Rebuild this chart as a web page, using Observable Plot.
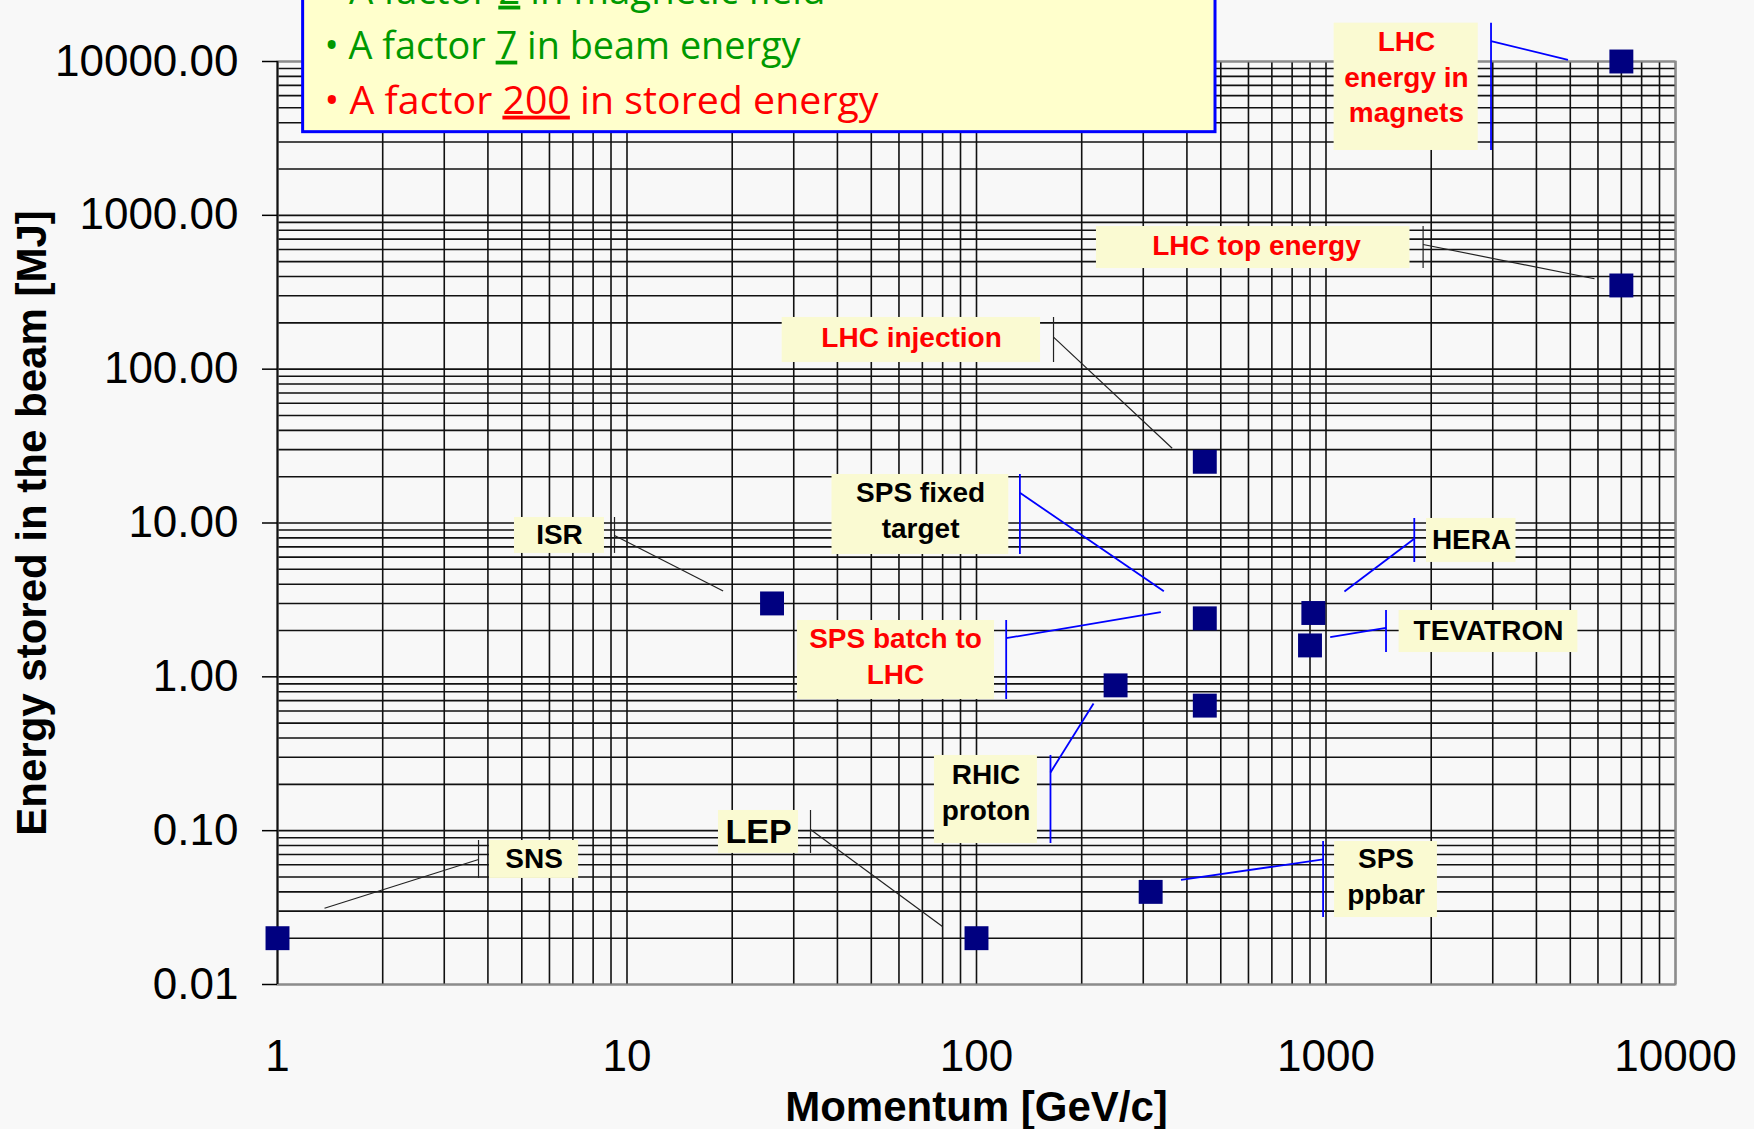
<!DOCTYPE html>
<html><head><meta charset="utf-8">
<script src="https://cdn.jsdelivr.net/npm/d3@7"></script>
<script src="https://cdn.jsdelivr.net/npm/@observablehq/plot@0.6"></script>
<style>
html,body{margin:0;padding:0;background:#f8f8f8;}
#chart svg{display:block;}
</style></head><body><div id="chart"></div>
<script>
// ---------------- data ----------------
const machines = ["SNS", "LEP", "SPS ppbar", "RHIC proton", "ISR", "LHC injection",
  "SPS fixed target", "SPS batch to LHC", "HERA", "TEVATRON", "LHC top energy", "LHC energy in magnets"];
const momentumGeV = [1, 100, 315, 250, 26, 450, 450, 450, 920, 900, 7000, 7000];
const storedEnergyMJ = [0.02, 0.02, 0.04, 0.88, 3, 25, 2.4, 0.65, 2.6, 1.6, 350, 10000];

const xTicks = [1, 10, 100, 1000, 10000];
const yTicks = [0.01, 0.1, 1, 10, 100, 1000, 10000];
const xLabel = "Momentum [GeV/c]";
const yLabel = "Energy stored in the beam [MJ]";

const factorLines = [
  ["• A factor ", "2", " in magnetic field"],
  ["• A factor ", "7", " in beam energy"],
  ["• A factor ", "200", " in stored energy"]
];
const factorColors = ["#009900", "#009900", "#ff0000"];

// ---------------- annotation layout (in data units) ----------------
const labelLayout = [
  {text: "SNS", red: false, blue: false, size: 28, tx: 5.42, ty: 0.065, bx: [4.04, 7.27], by: [0.0489, 0.0863], barX: 3.76, ly: 0.065, to: [1.363, 0.0313]},
  {text: "LEP", red: false, blue: false, size: 34, tx: 23.8, ty: 0.098, bx: [18.27, 30.96], by: [0.0711, 0.1353], barX: 33.5, ly: 0.1018, to: [79.9, 0.0238]},
  {text: "SPS\nppbar", red: false, blue: true, size: 28, tx: 1485, ty: 0.0496, bx: [1058, 2084], by: [0.02725, 0.085], barX: 981, ly: 0.065, to: [384.7, 0.0479]},
  {text: "RHIC\nproton", red: false, blue: true, size: 28, tx: 106.5, ty: 0.1744, bx: [75.8, 149.4], by: [0.0825, 0.3082], barX: 162.8, ly: 0.2389, to: [216.2, 0.671]},
  {text: "ISR", red: false, blue: false, size: 28, tx: 6.41, ty: 8.3, bx: [4.765, 8.62], by: [6.34, 10.86], barX: 9.21, ly: 8.3, to: [18.84, 3.61]},
  {text: "LHC injection", red: true, blue: false, size: 28, tx: 65.2, ty: 158.3, bx: [27.8, 152.5], by: [110.5, 216.8], barX: 166.1, ly: 161.4, to: [363, 30.6]},
  {text: "SPS fixed\ntarget", red: false, blue: true, size: 28, tx: 69.2, ty: 11.88, bx: [38.6, 123.7], by: [6.24, 20.67], barX: 133.1, ly: 15.72, to: [343.6, 3.6]},
  {text: "SPS batch to\nLHC", red: true, blue: true, size: 28, tx: 58.65, ty: 1.336, bx: [30.74, 112.6], by: [0.7124, 2.324], barX: 121.6, ly: 1.783, to: [336.8, 2.632]},
  {text: "HERA", red: false, blue: true, size: 28, tx: 2609, ty: 7.7, bx: [1939, 3497], by: [5.54, 10.7], barX: 1789, ly: 7.9, to: [1129, 3.59]},
  {text: "TEVATRON", red: false, blue: true, size: 28, tx: 2917, ty: 1.97, bx: [1619, 5257], by: [1.439, 2.7], barX: 1485, ly: 2.084, to: [1028, 1.81]},
  {text: "LHC top energy", red: true, blue: false, size: 28, tx: 632.6, ty: 627.4, bx: [220.4, 1739], by: [451, 846], barX: 1896, ly: 646.5, to: [5864, 386.9]},
  {text: "LHC\nenergy in\nmagnets", red: true, blue: true, size: 28, tx: 1699, ty: 7756, bx: [1055, 2726], by: [2640, 17750], barX: 2966, ly: 13560, to: [4925, 10260]}
];
const factorBox = {bx: [1.184, 482.9], by: [3472, 30000]};
const factorLayout = {x: 1.363, y: [28520, 12520, 5496], widths: [501, 476, 554]};

// ---------------- build ----------------
const points = machines.map((m, i) => ({machine: m, p: momentumGeV[i], e: storedEnergyMJ[i]}));
const factorRows = factorLines.map((parts, i) => ({text: parts.join(""), color: factorColors[i], y: factorLayout.y[i]}));
const blackLeads = labelLayout.filter(d => !d.blue);
const blueLeads = labelLayout.filter(d => d.blue);

const plot = Plot.plot({
  width: 1754,
  height: 1129,
  marginLeft: 277,
  marginRight: 79,
  marginTop: 61,
  marginBottom: 145,
  style: {background: "#f8f8f8", fontFamily: "'Liberation Sans', Arial, sans-serif", color: "#000"},
  x: {type: "log", domain: [xTicks[0], xTicks[xTicks.length - 1]]},
  y: {type: "log", domain: [yTicks[0], yTicks[yTicks.length - 1]]},
  marks: [
    Plot.gridX({ticks: 40, stroke: "#111", strokeOpacity: 1, strokeWidth: 1.6}),
    Plot.gridY({ticks: 60, stroke: "#111", strokeOpacity: 1, strokeWidth: 1.6}),
    Plot.frame({stroke: "#8c8c8c", strokeWidth: 2}),
    Plot.ruleX(xTicks.slice(0, 1), {stroke: "#111", strokeWidth: 1.8}),
    Plot.axisY({ticks: yTicks, tickSize: 15, tickPadding: 24, tickFormat: d3.format(".2f"), fontSize: 44, label: null, strokeWidth: 1.5}),
    Plot.axisX({ticks: xTicks, tickSize: 0, tickPadding: 55, tickFormat: d3.format("d"), fontSize: 44, label: null}),
    // factor box
    Plot.rect([factorBox], {x1: d => d.bx[0], x2: d => d.bx[1], y1: d => d.by[0], y2: d => d.by[1], fill: "#ffffcc", stroke: "#0000ff", strokeWidth: 3}),
    Plot.text(factorRows.filter(d => d.color === factorColors[0]), {x: () => factorLayout.x, y: "y", text: "text", fill: factorColors[0], textAnchor: "start", fontSize: 38, fontFamily: "'Open Sans', sans-serif", lineAnchor: "middle"}),
    Plot.text(factorRows.filter(d => d.color === factorColors[2]), {x: () => factorLayout.x, y: "y", text: "text", fill: factorColors[2], textAnchor: "start", fontSize: 38, fontFamily: "'Open Sans', sans-serif", lineAnchor: "middle"}),
    // label boxes
    Plot.rect(labelLayout, {x1: d => d.bx[0], x2: d => d.bx[1], y1: d => d.by[0], y2: d => d.by[1], fill: "#fafad2"}),
    // bars + leaders
    Plot.ruleX(blackLeads, {x: "barX", y1: d => d.by[0], y2: d => d.by[1], stroke: "#222", strokeWidth: 1.2}),
    Plot.link(blackLeads, {x1: "barX", y1: "ly", x2: d => d.to[0], y2: d => d.to[1], stroke: "#222", strokeWidth: 1.2}),
    Plot.ruleX(blueLeads, {x: "barX", y1: d => d.by[0], y2: d => d.by[1], stroke: "#0000ff", strokeWidth: 1.8}),
    Plot.link(blueLeads, {x1: "barX", y1: "ly", x2: d => d.to[0], y2: d => d.to[1], stroke: "#0000ff", strokeWidth: 1.8}),
    // label texts
    Plot.text(labelLayout.filter(d => !d.red), {x: "tx", y: "ty", dy: -3, text: "text", fill: "#000", fontSize: "size", fontWeight: "bold", lineHeight: 1.28, lineAnchor: "middle"}),
    Plot.text(labelLayout.filter(d => d.red), {x: "tx", y: "ty", dy: -3, text: "text", fill: "#ff0000", fontSize: "size", fontWeight: "bold", lineHeight: 1.27, lineAnchor: "middle"}),
    // data points
    Plot.dot(points, {x: "p", y: "e", symbol: "square", r: 13.5, fill: "#000080", stroke: "none"}),
    // axis titles
    Plot.text([xLabel], {text: d => d, frameAnchor: "bottom", textAnchor: "middle", lineAnchor: "middle", dy: 123, fontSize: 42, fontWeight: "bold"}),
    Plot.text([yLabel], {text: d => d, frameAnchor: "left", textAnchor: "middle", lineAnchor: "middle", rotate: -90, dx: -245, fontSize: 42, fontWeight: "bold"})
  ]
});

// underline the factor numbers
d3.select(plot).selectAll("text").filter(function () {
  return this.textContent.startsWith("• A factor");
}).each(function () {
  const full = this.textContent;
  const i = factorLines.findIndex(p => p.join("") === full);
  if (i < 0) return;
  const t = d3.select(this);
  t.text(null).style("white-space", "pre");
  factorLines[i].forEach((part, j) => {
    const s = t.append("tspan").text(part);
    if (j === 1) s.style("text-decoration", "underline");
  });
  t.attr("textLength", factorLayout.widths[i]).attr("lengthAdjust", "spacingAndGlyphs");
});

document.getElementById("chart").appendChild(plot);
</script>
</body></html>
